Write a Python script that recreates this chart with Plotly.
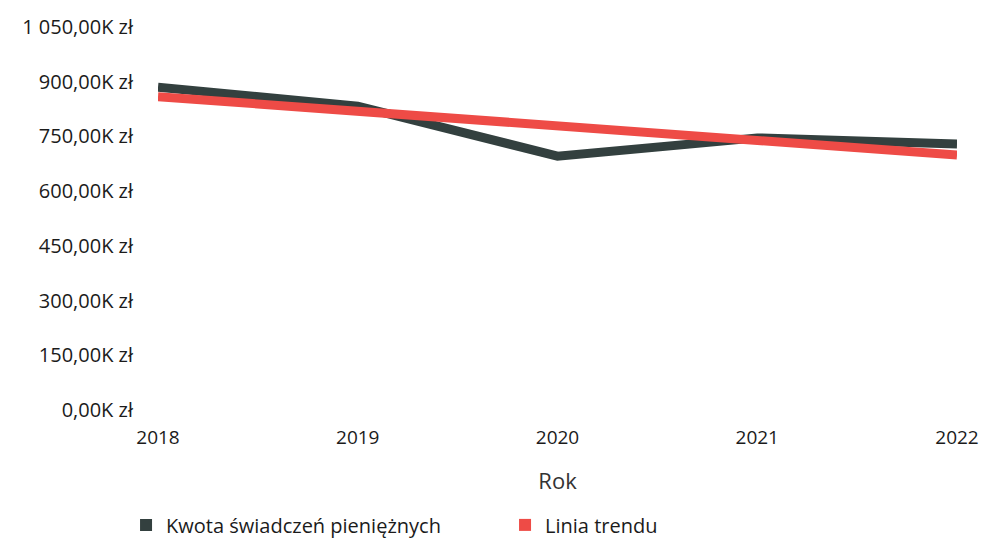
import plotly.graph_objects as go

years = ["2018", "2019", "2020", "2021", "2022"]
kwota = [885000, 833000, 696000, 746000, 729000]
trend = [859000, 819000, 779000, 739000, 699000]
y_tickvals = [0, 150000, 300000, 450000, 600000, 750000, 900000, 1050000]
y_ticktext = ["0,00K zł", "150,00K zł", "300,00K zł", "450,00K zł",
              "600,00K zł", "750,00K zł", "900,00K zł", "1 050,00K zł"]

DARK = "#33403F"
RED = "#EE4B46"
TXT = "#1b1b1b"
FONT = "Open Sans"

fig = go.Figure()
fig.add_trace(go.Scatter(x=years, y=kwota, mode="lines", line=dict(color=DARK, width=9),
                         name="Kwota świadczeń pieniężnych", showlegend=False))
fig.add_trace(go.Scatter(x=years, y=trend, mode="lines", line=dict(color=RED, width=9),
                         name="Linia trendu", showlegend=False))
fig.add_trace(go.Scatter(x=[None], y=[None], mode="markers",
                         marker=dict(symbol="square", size=12, color=DARK),
                         name="Kwota świadczeń pieniężnych"))
fig.add_trace(go.Scatter(x=[None], y=[None], mode="markers",
                         marker=dict(symbol="square", size=12, color=RED),
                         name="Linia trendu"))

fig.update_layout(
    width=981, height=542,
    margin=dict(l=158, r=24, t=27, b=132, autoexpand=False),
    paper_bgcolor="white", plot_bgcolor="white",
    font=dict(family=FONT, size=20, color=TXT),
    xaxis=dict(type="category", range=[0, 4], showgrid=False, zeroline=False,
               showline=False, ticks="", ticklabelstandoff=14, automargin=False,
               tickfont=dict(size=19, color=TXT),
               title=dict(text="Rok", standoff=24, font=dict(size=22, color="#333"))),
    yaxis=dict(range=[0, 1050000], tickvals=y_tickvals, ticktext=y_ticktext,
               showgrid=False, zeroline=False, showline=False, ticks="", automargin=False,
               ticklabelstandoff=24, tickfont=dict(size=20, color=TXT)),
    legend=dict(orientation="h", x=-0.04, xanchor="left", y=-0.30, yanchor="middle",
                font=dict(size=20, color=TXT), itemwidth=30, entrywidth=334,
                tracegroupgap=0),
)

fig.write_html("out.html", config={"displayModeBar": False},
               post_script="document.body.style.margin='0';")
